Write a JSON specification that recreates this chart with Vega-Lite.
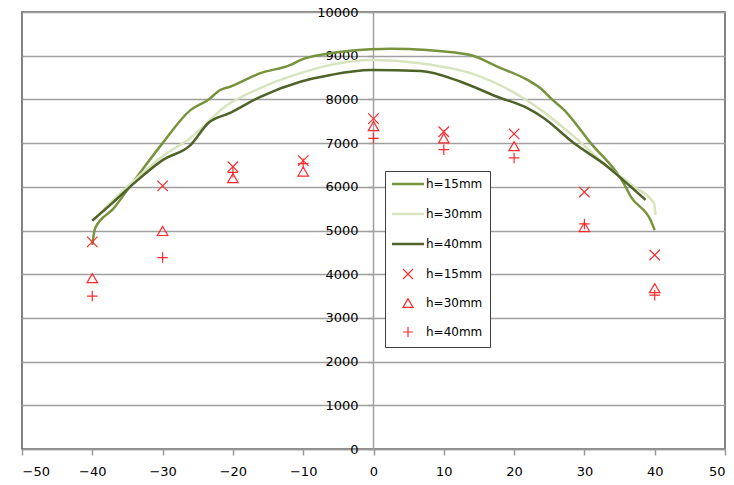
{
  "$schema": "https://vega.github.io/schema/vega-lite/v6.json",
  "width": 703,
  "height": 437,
  "autosize": {"type": "none"},
  "padding": {"left": 22, "top": 12, "right": 9, "bottom": 36},
  "background": "white",
  "config": {
    "view": {"stroke": "#595959", "strokeWidth": 1.5},
    "font": "DejaVu Sans"
  },
  "datasets": {
    "lines": [
      {"s": "L15", "x": -40, "y": 4670}, {"s": "L15", "x": -39.6, "y": 5050}, {"s": "L15", "x": -37, "y": 5500},
      {"s": "L15", "x": -34, "y": 6150}, {"s": "L15", "x": -30, "y": 7000}, {"s": "L15", "x": -26, "y": 7760},
      {"s": "L15", "x": -23.5, "y": 7990}, {"s": "L15", "x": -21.8, "y": 8215}, {"s": "L15", "x": -20.4, "y": 8290},
      {"s": "L15", "x": -16.1, "y": 8600}, {"s": "L15", "x": -11.8, "y": 8790}, {"s": "L15", "x": -10.4, "y": 8900},
      {"s": "L15", "x": -6.1, "y": 9055}, {"s": "L15", "x": -0.4, "y": 9145}, {"s": "L15", "x": 2.4, "y": 9160},
      {"s": "L15", "x": 7.6, "y": 9130}, {"s": "L15", "x": 13.8, "y": 9015}, {"s": "L15", "x": 17.6, "y": 8750},
      {"s": "L15", "x": 21.9, "y": 8445}, {"s": "L15", "x": 23.8, "y": 8250}, {"s": "L15", "x": 25.2, "y": 8030},
      {"s": "L15", "x": 27.1, "y": 7760}, {"s": "L15", "x": 30.9, "y": 7000}, {"s": "L15", "x": 35.6, "y": 6080},
      {"s": "L15", "x": 36.6, "y": 5775}, {"s": "L15", "x": 39.4, "y": 5240}, {"s": "L15", "x": 40, "y": 5010},

      {"s": "L30", "x": -39.5, "y": 5300}, {"s": "L30", "x": -37, "y": 5700}, {"s": "L30", "x": -34, "y": 6150},
      {"s": "L30", "x": -30, "y": 6700}, {"s": "L30", "x": -26, "y": 7120}, {"s": "L30", "x": -21, "y": 7850},
      {"s": "L30", "x": -16.1, "y": 8260}, {"s": "L30", "x": -10.4, "y": 8600}, {"s": "L30", "x": -6.1, "y": 8790},
      {"s": "L30", "x": -0.4, "y": 8900}, {"s": "L30", "x": 6.7, "y": 8825}, {"s": "L30", "x": 13.8, "y": 8600},
      {"s": "L30", "x": 21, "y": 8060}, {"s": "L30", "x": 23.8, "y": 7760}, {"s": "L30", "x": 28.5, "y": 7150},
      {"s": "L30", "x": 33.3, "y": 6460}, {"s": "L30", "x": 37.1, "y": 6000}, {"s": "L30", "x": 39.9, "y": 5620},
      {"s": "L30", "x": 40.1, "y": 5355},

      {"s": "L40", "x": -40, "y": 5225}, {"s": "L40", "x": -37, "y": 5650}, {"s": "L40", "x": -34, "y": 6090},
      {"s": "L40", "x": -30, "y": 6610}, {"s": "L40", "x": -26, "y": 6960}, {"s": "L40", "x": -23.5, "y": 7460},
      {"s": "L40", "x": -20.4, "y": 7690}, {"s": "L40", "x": -16.1, "y": 8060}, {"s": "L40", "x": -10.4, "y": 8405},
      {"s": "L40", "x": -6.1, "y": 8560}, {"s": "L40", "x": -0.4, "y": 8673}, {"s": "L40", "x": 6.7, "y": 8650},
      {"s": "L40", "x": 12.4, "y": 8405}, {"s": "L40", "x": 17.6, "y": 8060}, {"s": "L40", "x": 21.9, "y": 7800},
      {"s": "L40", "x": 24.2, "y": 7575}, {"s": "L40", "x": 28.5, "y": 7000}, {"s": "L40", "x": 33.3, "y": 6460},
      {"s": "L40", "x": 36.6, "y": 6000}, {"s": "L40", "x": 38.7, "y": 5700}
    ],
    "points": [
      {"s": "P15", "x": -40, "y": 4740}, {"s": "P15", "x": -30, "y": 6020}, {"s": "P15", "x": -20, "y": 6460},
      {"s": "P15", "x": -10, "y": 6600}, {"s": "P15", "x": 0, "y": 7560}, {"s": "P15", "x": 10, "y": 7260},
      {"s": "P15", "x": 20, "y": 7210}, {"s": "P15", "x": 30, "y": 5880}, {"s": "P15", "x": 40, "y": 4440},
      {"s": "P30", "x": -40, "y": 3910}, {"s": "P30", "x": -30, "y": 4990}, {"s": "P30", "x": -20, "y": 6200},
      {"s": "P30", "x": -10, "y": 6350}, {"s": "P30", "x": 0, "y": 7390}, {"s": "P30", "x": 10, "y": 7110},
      {"s": "P30", "x": 20, "y": 6930}, {"s": "P30", "x": 30, "y": 5080}, {"s": "P30", "x": 40, "y": 3680},
      {"s": "P40", "x": -40, "y": 3500}, {"s": "P40", "x": -30, "y": 4380}, {"s": "P40", "x": -20, "y": 6330},
      {"s": "P40", "x": -10, "y": 6530}, {"s": "P40", "x": 0, "y": 7110}, {"s": "P40", "x": 10, "y": 6850},
      {"s": "P40", "x": 20, "y": 6660}, {"s": "P40", "x": 30, "y": 5150}, {"s": "P40", "x": 40, "y": 3520}
    ]
  },
  "encoding": {
    "x": {
      "field": "x", "type": "quantitative",
      "scale": {"domain": [-50, 50], "nice": false, "zero": false},
      "axis": {
        "orient": "bottom", "values": [-50, -40, -30, -20, -10, 0, 10, 20, 30, 40, 50],
        "grid": false, "title": null, "domainColor": "#999999", "domainWidth": 1.5,
        "tickColor": "#999999", "tickWidth": 1.5, "tickSize": 6, "labelPadding": 10,
        "labelFontSize": 13, "labelColor": "#000000", "labelFont": "DejaVu Sans", "format": "d"
      }
    },
    "y": {
      "field": "y", "type": "quantitative",
      "scale": {"domain": [0, 10000], "nice": false},
      "axis": {
        "orient": "left", "offset": -351,
        "values": [0, 1000, 2000, 3000, 4000, 5000, 6000, 7000, 8000, 9000, 10000],
        "grid": true, "gridColor": "#a0a0a0", "gridWidth": 1.5,
        "title": null, "domainColor": "#a0a0a0", "domainWidth": 1.5,
        "tickColor": "#a0a0a0", "tickWidth": 1.5, "tickSize": 5, "labelPadding": 10,
        "labelFontSize": 13, "labelColor": "#000000", "labelFont": "DejaVu Sans", "format": "d"
      }
    }
  },
  "layer": [
    {
      "data": {"name": "lines"},
      "mark": {"type": "line", "strokeWidth": 2.5, "interpolate": "monotone"},
      "encoding": {
        "color": {
          "field": "s", "type": "nominal",
          "scale": {
            "domain": ["L15", "L30", "L40", "P15", "P30", "P40"],
            "range": ["#77933C", "#D7E4BD", "#4F6228", "#FF2A2A", "#FF2A2A", "#FF2A2A"]
          },
          "legend": {
            "orient": "none", "legendX": 363, "legendY": 159, "title": null,
            "strokeColor": "#404040", "fillColor": "white", "padding": 7, "rowPadding": 14,
            "labelFontSize": 12, "labelFont": "DejaVu Sans", "labelColor": "#000000",
            "symbolSize": 100, "symbolOffset": 10, "labelOffset": 12,
            "labelExpr": "'h=' + slice(datum.value, 1) + 'mm'",
            "encode": {"symbols": {"update": {"strokeWidth": {"signal": "datum.index < 3 ? 2.5 : 1.2"}}}}
          }
        }
      }
    },
    {
      "data": {"name": "points"},
      "mark": {"type": "point", "filled": false, "strokeWidth": 1.2, "size": 110, "opacity": 1},
      "encoding": {
        "color": {"field": "s", "type": "nominal"},
        "shape": {
          "field": "s", "type": "nominal",
          "scale": {
            "domain": ["L15", "L30", "L40", "P15", "P30", "P40"],
            "range": ["M-3.2,0H3.2M0,-0.45M0,0.45", "M-3.2,0H3.2M0,-0.45M0,0.45", "M-3.2,0H3.2M0,-0.45M0,0.45", "M-1,-1L1,1M-1,1L1,-1", "triangle-up", "M-1,0H1M0,-1V1"]
          },
          "legend": {
            "orient": "none", "legendX": 363, "legendY": 159, "title": null,
            "strokeColor": "#404040", "fillColor": "white", "padding": 7, "rowPadding": 14,
            "labelFontSize": 12, "labelFont": "DejaVu Sans", "labelColor": "#000000",
            "symbolSize": 100, "symbolOffset": 10, "labelOffset": 12,
            "labelExpr": "'h=' + slice(datum.value, 1) + 'mm'",
            "encode": {"symbols": {"update": {"strokeWidth": {"signal": "datum.index < 3 ? 2.5 : 1.2"}}}}
          }
        }
      }
    }
  ]
}
